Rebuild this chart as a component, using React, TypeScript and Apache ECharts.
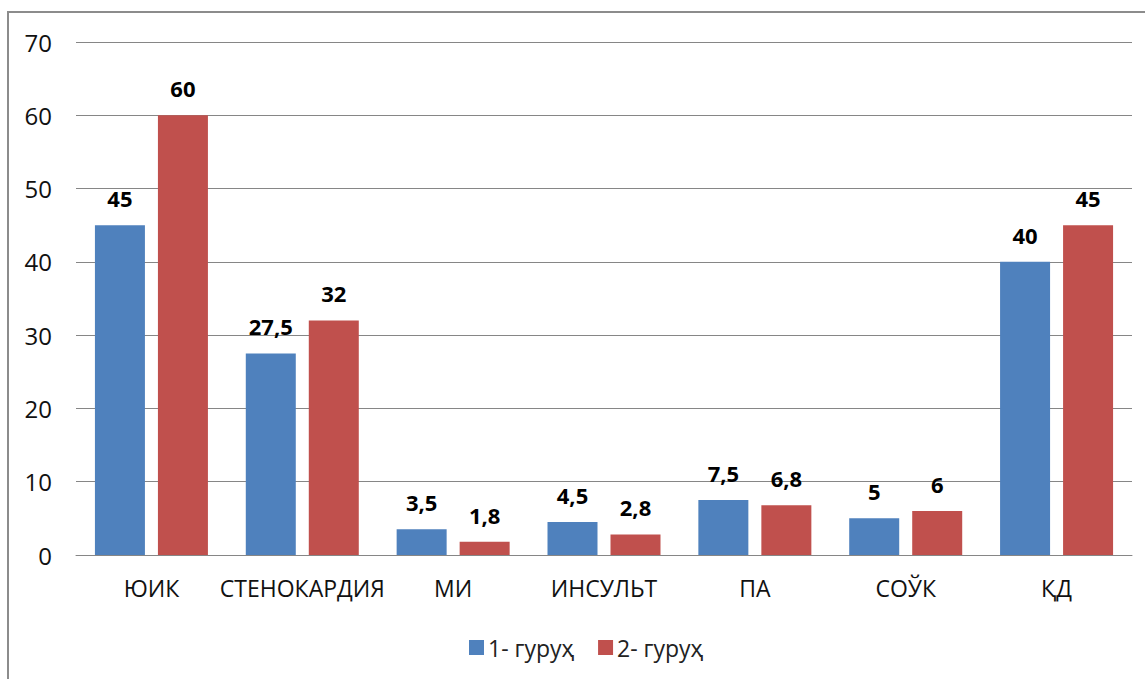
import React, { useEffect, useRef } from "react";
import * as echarts from "echarts";

const categories = ["ЮИК", "СТЕНОКАРДИЯ", "МИ", "ИНСУЛЬТ", "ПА", "СОЎК", "ҚД"];
const group1 = [45, 27.5, 3.5, 4.5, 7.5, 5, 40];
const group2 = [60, 32, 1.8, 2.8, 6.8, 6, 45];
const seriesNames = ["1- гуруҳ", "2- гуруҳ"];
const yTicks = { min: 0, max: 70, interval: 10 };

const FONT = "'Open Sans', 'Noto Sans', sans-serif";

export default function App() {
  const ref = useRef<HTMLDivElement>(null);
  useEffect(() => {
    if (!ref.current) return;
    const chart = echarts.init(ref.current, undefined, { renderer: "svg" });
    const fmt = (p: any) => String(p.value).replace(".", ",");
    const labelStyle = {
      show: true,
      position: "top" as const,
      distance: 16,
      fontFamily: FONT,
      fontWeight: "bold" as const,
      fontSize: 22,
      color: "#000",
      formatter: fmt,
    };
    chart.setOption({
      animation: false,
      backgroundColor: "#fff",
      graphic: [
        {
          type: "rect",
          shape: { x: 8, y: 12, width: 1200, height: 720 },
          style: { fill: "none", stroke: "#8c8c8c", lineWidth: 2 },
          silent: true,
        },
      ],
      grid: { left: 76, right: 13, top: 42, bottom: 124 },
      legend: {
        top: 631,
        left: 464,
        itemWidth: 15,
        itemHeight: 15,
        itemGap: 24,
        icon: "rect",
        textStyle: { fontFamily: FONT, fontSize: 23, color: "#222", padding: [0, 0, 0, -1] },
        data: seriesNames,
      },
      xAxis: {
        type: "category",
        data: categories,
        axisLine: { lineStyle: { color: "#868686", width: 1 } },
        axisTick: { show: false },
        axisLabel: { fontFamily: FONT, fontSize: 23, color: "#111", margin: 21, interval: 0 },
      },
      yAxis: {
        type: "value",
        min: yTicks.min,
        max: yTicks.max,
        interval: yTicks.interval,
        axisLine: { show: false },
        axisTick: { show: false },
        splitLine: { lineStyle: { color: "#868686", width: 1 } },
        axisLabel: { fontFamily: FONT, fontSize: 24, color: "#111", margin: 24 },
      },
      series: [
        {
          name: seriesNames[0],
          type: "bar",
          data: group1,
          barWidth: 50,
          barGap: "26%",
          itemStyle: { color: "#4F81BD" },
          label: labelStyle,
        },
        {
          name: seriesNames[1],
          type: "bar",
          data: group2,
          barWidth: 50,
          barGap: "26%",
          itemStyle: { color: "#C0504D" },
          label: labelStyle,
        },
      ],
    });
    return () => chart.dispose();
  }, []);
  return (
    <div
      ref={ref}
      style={{ position: "fixed", left: 0, top: 0, width: 1145, height: 679, background: "#fff" }}
    />
  );
}
